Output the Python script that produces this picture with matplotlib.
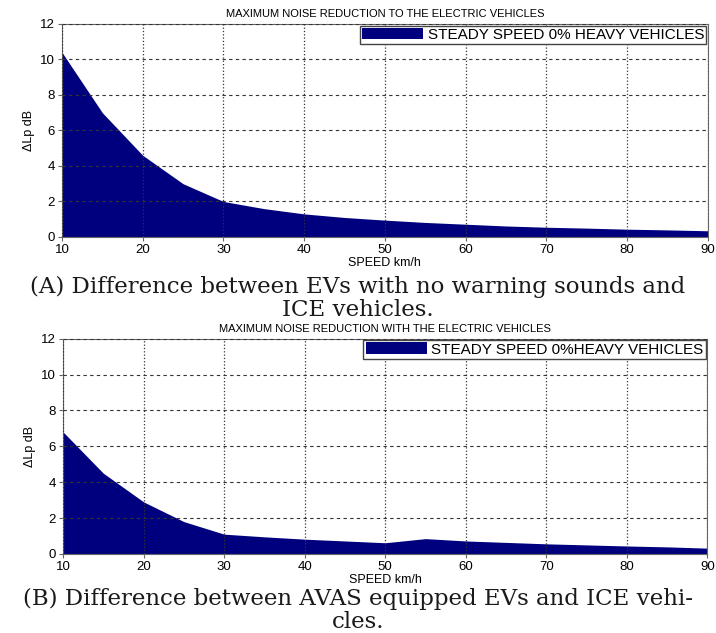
import matplotlib.pyplot as plt
import matplotlib

matplotlib.rcParams.update({'font.family': ['Liberation Sans', 'DejaVu Sans'], 'font.size': 9})

speed = [10, 15, 20, 25, 30, 35, 40, 45, 50, 55, 60, 65, 70, 75, 80, 85, 90]

# no warning sounds vs ICE
delta_a = [10.4, 7.0, 4.6, 3.0, 2.0, 1.6, 1.3, 1.1, 0.95, 0.82, 0.72, 0.62, 0.55, 0.5, 0.44, 0.4, 0.35]
# AVAS equipped vs ICE
delta_b = [6.8, 4.5, 2.9, 1.8, 1.1, 0.95, 0.82, 0.72, 0.62, 0.85, 0.72, 0.64, 0.56, 0.5, 0.44, 0.39, 0.32]

titles = ["MAXIMUM NOISE REDUCTION TO THE ELECTRIC VEHICLES",
          "MAXIMUM NOISE REDUCTION WITH THE ELECTRIC VEHICLES"]
legends = ["STEADY SPEED 0% HEAVY VEHICLES", "STEADY SPEED 0%HEAVY VEHICLES"]
captions = [["(A) Difference between EVs with no warning sounds and", "ICE vehicles."],
            ["(B) Difference between AVAS equipped EVs and ICE vehi-", "cles."]]

fig = plt.figure(figsize=(7.16, 6.33), dpi=100)
boxes = [[0.0866, 0.6256, 0.902, 0.3365], [0.088, 0.125, 0.900, 0.340]]
# caption line centres in pixels from top
caption_px = [[287, 310], [599, 622]]

for i, ys in enumerate([delta_a, delta_b]):
    ax = fig.add_axes(boxes[i])
    ax.fill_between(speed, ys, 0, color='#00007f', label=legends[i], linewidth=0)
    ax.set_xlim(10, 90)
    ax.set_ylim(0, 12)
    ax.set_xticks(range(10, 91, 10))
    ax.set_yticks(range(0, 13, 2))
    ax.xaxis.grid(True, linestyle=':', color='#333333', linewidth=0.9)
    ax.yaxis.grid(True, linestyle='--', color='#333333', linewidth=0.8, dashes=(3, 3))
    ax.set_axisbelow(False)
    for s in ax.spines.values():
        s.set_color('#666666')
    ax.tick_params(length=3, color='#666666', labelsize=9.5, pad=2)
    ax.set_title(titles[i], fontsize=8, pad=5)
    ax.set_xlabel('SPEED km/h', fontsize=9, labelpad=1)
    ax.set_ylabel('ΔLp dB', fontsize=9, labelpad=4)
    leg = ax.legend(loc='upper right', fontsize=11, borderaxespad=0.1, borderpad=0.15,
                    handlelength=4.0, handleheight=0.8, handletextpad=0.3,
                    fancybox=False, framealpha=1)
    leg.get_frame().set_edgecolor('#444444')
    for j, line in enumerate(captions[i]):
        fig.text(0.5, 1 - caption_px[i][j] / 633, line, ha='center', va='center',
                 fontsize=16.5, family=['DejaVu Serif'], color='#1a1a1a')

plt.savefig('out.png', dpi=100)
